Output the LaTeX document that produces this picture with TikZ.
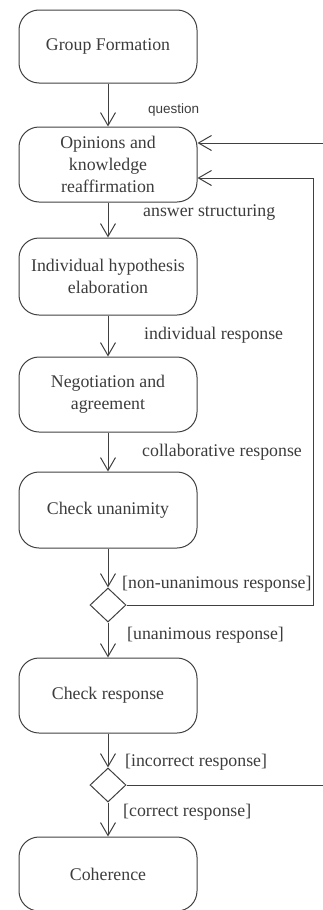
\documentclass[tikz,border=0pt]{standalone}
\usepackage{fontspec}
\setmainfont{Liberation Serif}
\newfontfamily\labsans{Liberation Sans}
\usetikzlibrary{arrows.meta,shapes.geometric}
\definecolor{ink}{HTML}{3C3C3C}
\definecolor{linec}{HTML}{404040}
\begin{document}
\begin{tikzpicture}[x=1pt,y=-1pt,
  act/.style={draw=linec,line width=1pt,rounded corners=20pt,minimum width=178pt,minimum height=75pt,
    align=center,text=ink,font=\fontsize{17.8}{22}\selectfont,inner sep=2pt},
  dec/.style={draw=linec,line width=1pt,diamond,minimum width=36pt,minimum height=34pt,inner sep=0pt},
  arr/.style={draw=linec,line width=1pt,-{Straight Barb[length=13pt,width=15pt,line width=1pt]}},
  lab/.style={anchor=west,text=ink,font=\fontsize{17.8}{22}\selectfont,inner sep=0pt},
  qlab/.style={anchor=west,text=ink,font=\labsans\fontsize{13.5}{16}\selectfont,inner sep=0pt}]
\useasboundingbox (0,0) rectangle (323,910);
\node[act,minimum height=73pt] (gf) at (108,46.5) {Group Formation};
\node[act] (op) at (108,164.5) {Opinions and\\knowledge\\reaffirmation};
\node[act,minimum height=77pt] (ih) at (108,276.5) {Individual hypothesis\\elaboration};
\node[act] (na) at (108,394.5) {Negotiation and\\agreement};
\node[act,minimum height=76pt] (cu) at (108,510) {Check unanimity};
\node[dec] (d1) at (108,605) {};
\node[act] (cr) at (108,695.5) {Check response};
\node[dec] (d2) at (108,785) {};
\node[act,minimum height=74pt] (coh) at (108,874) {Coherence};

\draw[arr] (gf) -- (op);
\draw[arr] (op) -- (ih);
\draw[arr] (ih) -- (na);
\draw[arr] (na) -- (cu);
\draw[arr] (cu) -- (d1);
\draw[arr] (d1) -- (cr);
\draw[arr] (cr) -- (d2);
\draw[arr] (d2) -- (coh);

\coordinate (r1) at (313,605);
\coordinate (r2) at (335,785);
\draw[arr] (d1.east) -- (r1) |- ([yshift=-13.5pt]op.east);
\draw[arr] (d2.east) -- (r2) |- ([yshift=21.5pt]op.east);

\node[qlab] (l0) at (148,110) {question};
\node[lab] (l1) at (143,213) {answer structuring};
\node[lab] (l2) at (144,335) {individual response};
\node[lab] (l3) at (142,452) {collaborative response};
\node[lab] (l4) at (122,584) {[non-unanimous response]};
\node[lab] (l5) at (127,635) {[unanimous response]};
\node[lab] (l6) at (125,762) {[incorrect response]};
\node[lab] (l7) at (123,812) {[correct response]};
\end{tikzpicture}
\end{document}
